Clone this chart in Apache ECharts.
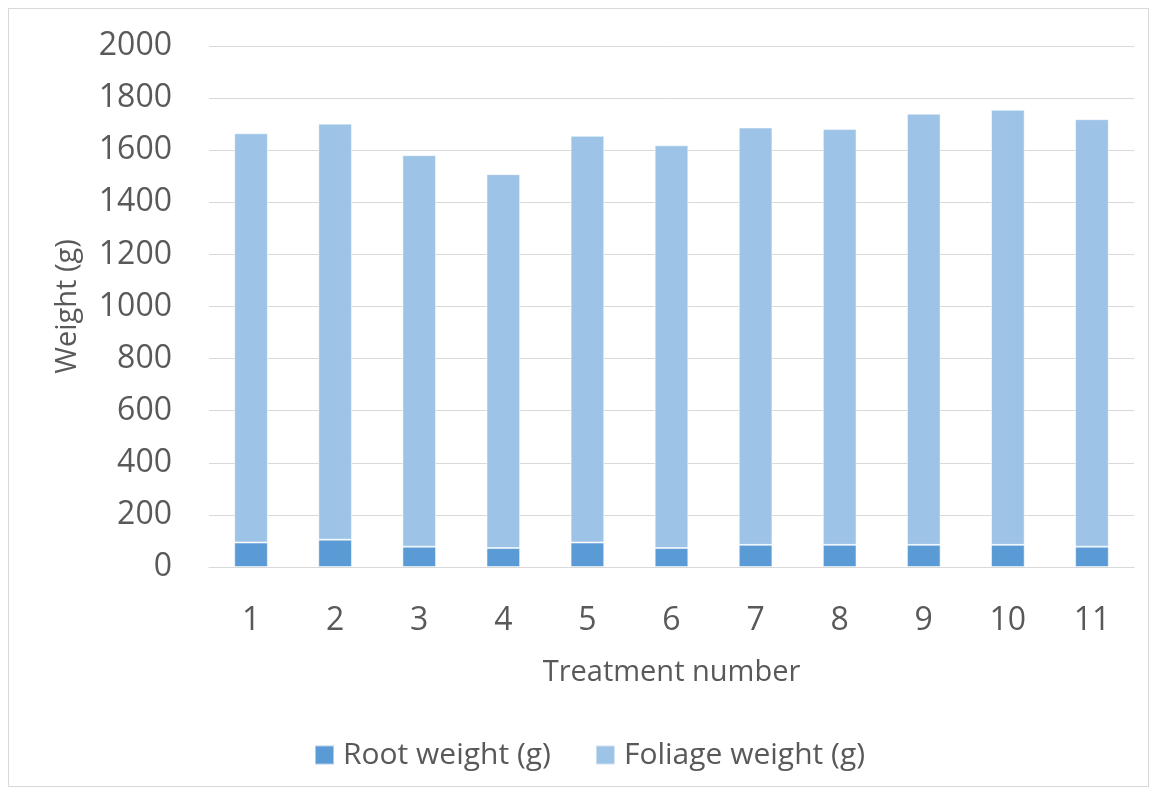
<!DOCTYPE html>
<html>
<head>
<meta charset="utf-8">
<script src="https://cdn.jsdelivr.net/npm/echarts@6/dist/echarts.min.js"></script>
<style>
  html, body { margin: 0; padding: 0; background: #fff; }
  #frame { position: absolute; left: 8px; top: 8px; width: 1141px; height: 779px; border: 1px solid #d9d9d9; box-sizing: border-box; }
  #chart { position: absolute; left: 0; top: 0; width: 1159px; height: 796px; }
</style>
</head>
<body>
<div id="frame"></div>
<div id="chart"></div>
<script>
// Treatment numbers along the x axis
const treatments = ['1', '2', '3', '4', '5', '6', '7', '8', '9', '10', '11'];
// Stacked weights per treatment (g)
const rootWeight = [94, 105, 78, 73, 94, 73, 85, 85, 85, 85, 78];
const foliageWeight = [1571, 1597, 1503, 1435, 1561, 1546, 1602, 1596, 1655, 1670, 1641];
// Value axis ticks
const yMin = 0, yMax = 2000, yStep = 200;

const font = '"Open Sans", "Liberation Sans", sans-serif';
const textColor = '#595959';

const chart = echarts.init(document.getElementById('chart'), null, { renderer: 'canvas' });
chart.setOption({
  animation: false,
  textStyle: { fontFamily: font },
  grid: { left: 209, right: 25, top: 46, bottom: 229, containLabel: false },
  legend: {
    top: 740,
    left: 314,
    padding: 0,
    itemWidth: 19,
    itemHeight: 19,
    itemGap: 44,
    icon: 'rect',
    textStyle: { fontFamily: font, fontSize: 30, lineHeight: 30, color: textColor, padding: [0, 0, 0, 4] },
    data: ['Root weight (g)', 'Foliage weight (g)']
  },
  xAxis: {
    type: 'category',
    data: treatments,
    name: 'Treatment number',
    nameLocation: 'middle',
    nameGap: 91,
    nameTextStyle: { fontFamily: font, fontSize: 29, color: textColor },
    axisLine: { lineStyle: { color: '#d9d9d9', width: 1 } },
    axisTick: { show: false },
    axisLabel: { fontFamily: font, fontSize: 32, color: textColor, margin: 38 }
  },
  yAxis: {
    type: 'value',
    min: yMin,
    max: yMax,
    interval: yStep,
    name: 'Weight (g)',
    nameLocation: 'middle',
    nameGap: 127,
    nameRotate: 90,
    nameTextStyle: { fontFamily: font, fontSize: 29, color: textColor },
    axisLine: { show: false },
    axisTick: { show: false },
    splitLine: { lineStyle: { color: '#d9d9d9', width: 1 } },
    axisLabel: { fontFamily: font, fontSize: 32, color: textColor, margin: 37, formatter: v => String(v) }
  },
  series: [
    {
      name: 'Root weight (g)',
      type: 'bar',
      stack: 'total',
      data: rootWeight,
      barWidth: '40%',
      itemStyle: { color: '#5b9bd5', borderColor: 'rgba(255,255,255,0.5)', borderWidth: 1 }
    },
    {
      name: 'Foliage weight (g)',
      type: 'bar',
      stack: 'total',
      data: foliageWeight,
      barWidth: '40%',
      itemStyle: { color: '#9dc3e6', borderColor: 'rgba(255,255,255,0.5)', borderWidth: 1 }
    }
  ]
});
</script>
</body>
</html>
